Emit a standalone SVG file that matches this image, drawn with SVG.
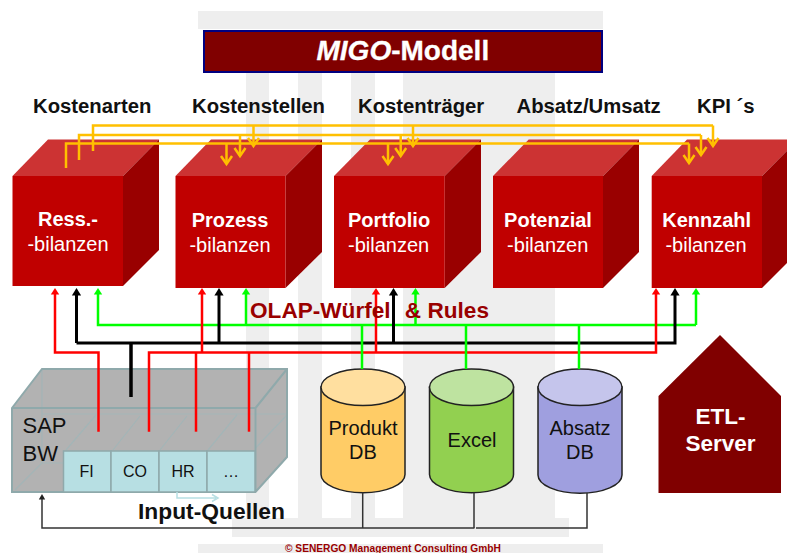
<svg xmlns="http://www.w3.org/2000/svg" width="787" height="553" viewBox="0 0 787 553">
<style>
text{font-family:"Liberation Sans",Arial,sans-serif}
.bg{fill:#eeeeee}
.front{fill:#c00000}.top{fill:#cc3333}.side{fill:#990000}
.cl{fill:#fff;font-size:20px;text-anchor:middle}
.b{font-weight:bold}
.hd{fill:#111;font-size:20.3px;font-weight:bold}
.y{fill:none;stroke:#ffc000;stroke-width:2.5;marker-end:url(#my)}
.yn{fill:none;stroke:#ffc000;stroke-width:2.5}
.r{fill:none;stroke:#ff0000;stroke-width:2.5}
.k{fill:none;stroke:#000;stroke-width:3}
.g{fill:none;stroke:#00ff00;stroke-width:2.5}
.t{fill:none;stroke:#333;stroke-width:1.5}
.cyl{stroke:#222;stroke-width:1.5}
.dt{fill:#111;font-size:20px;text-anchor:middle}
.tab{fill:#b7dfe3;stroke:#8fa9ab;stroke-width:1.5}
.tt{fill:#111;font-size:16px;text-anchor:middle}
.edge{fill:none;stroke:#8fa9ab;stroke-width:2}
.hid{fill:none;stroke:#a3b5b7;stroke-width:1.2}
</style>
<defs>
<marker id="my" markerUnits="userSpaceOnUse" markerWidth="20" markerHeight="20" orient="auto" overflow="visible"><path d="M-8,-5.5L0,0L-8,5.5" fill="none" stroke="#ffc000" stroke-width="2.5"/></marker>
<marker id="mr" markerUnits="userSpaceOnUse" markerWidth="12" markerHeight="12" orient="auto" overflow="visible"><path d="M-0.5,-4.2L6,0L-0.5,4.2z" fill="#ff0000"/></marker>
<marker id="mk" markerUnits="userSpaceOnUse" markerWidth="12" markerHeight="12" orient="auto" overflow="visible"><path d="M-0.5,-4.6L7,0L-0.5,4.6z" fill="#000"/></marker>
<marker id="mg" markerUnits="userSpaceOnUse" markerWidth="12" markerHeight="12" orient="auto" overflow="visible"><path d="M-0.5,-4.2L6,0L-0.5,4.2z" fill="#00ff00"/></marker>
<marker id="mt" markerUnits="userSpaceOnUse" markerWidth="12" markerHeight="12" orient="auto" overflow="visible"><path d="M-0.5,-3.2L5,0L-0.5,3.2z" fill="#222"/></marker>
</defs>
<rect width="787" height="553" fill="#fff"/>
<g id="background">
<rect class="bg" x="198" y="11" width="405" height="18"/>
<rect class="bg" x="246" y="72" width="23" height="446"/>
<rect class="bg" x="298" y="72" width="24" height="446"/>
<rect class="bg" x="351" y="72" width="24" height="446"/>
<rect class="bg" x="403" y="72" width="152" height="446"/>
<rect class="bg" x="232" y="518" width="337" height="19"/>
<rect class="bg" x="198" y="544" width="405" height="9"/>
</g>
<g id="title">
<rect x="204" y="31" width="398" height="41" fill="#800000" stroke="#000080" stroke-width="2"/>
<text x="316.500" y="60" fill="#fff" font-size="28" font-weight="bold" stroke="#fff" stroke-width="0.3"><tspan font-style="italic" font-weight="bold">MIGO</tspan>-Modell</text>
</g>
<g id="headers">
<text class="hd" x="33" y="113">Kostenarten</text>
<text class="hd" x="192" y="113">Kostenstellen</text>
<text class="hd" x="358" y="113">Kostenträger</text>
<text class="hd" x="516.500" y="113">Absatz/Umsatz</text>
<text class="hd" x="697" y="113">KPI ´s</text>
</g>
<g id="cube-ress">
<path class="top" d="M12.500,176L48,139.500H159L123,176z"/><path class="side" d="M123,176L159,139.500V250L123,286z"/><rect class="front" x="12.500" y="176" width="110.500" height="110"/>
<text class="cl b" x="68" y="226">Ress.-</text><text class="cl" x="68" y="251">-bilanzen</text>
</g>
<g id="cube-prozess">
<path class="top" d="M175.500,176L211,139.500H322L285.500,176z"/><path class="side" d="M285.500,176L322,139.500V252L285.500,288z"/><rect class="front" x="175.500" y="176" width="110" height="112"/>
<text class="cl b" x="230" y="226.500">Prozess</text><text class="cl" x="230" y="251.500">-bilanzen</text>
</g>
<g id="cube-portfolio">
<path class="top" d="M334,176L370,139.500H481L444.700,176z"/><path class="side" d="M444.700,176L481,139.500V252L444.700,288z"/><rect class="front" x="334" y="176" width="110.700" height="112"/>
<text class="cl b" x="389" y="226.500">Portfolio</text><text class="cl" x="388.600" y="251.500">-bilanzen</text>
</g>
<g id="cube-potenzial">
<path class="top" d="M493,176L528.700,139.500H639L603,176z"/><path class="side" d="M603,176L639,139.500V252L603,288z"/><rect class="front" x="493" y="176" width="110" height="112"/>
<text class="cl b" x="548" y="226.500">Potenzial</text><text class="cl" x="547.700" y="251.500">-bilanzen</text>
</g>
<g id="cube-kennzahl">
<path class="top" d="M651.700,176L687,139.500H798L762,176z"/><path class="side" d="M762,176L798,139.500V252L762,288z"/><rect class="front" x="651.700" y="176" width="110.300" height="112"/>
<text class="cl b" x="706.700" y="226.500">Kennzahl</text><text class="cl" x="706" y="251.500">-bilanzen</text>
</g>
<g id="sap-bw">
<path d="M12,408L42,369H287V457L255.500,492H12z" fill="#b2b2b2"/>
<path class="hid" d="M42,369V463L15,490M42,463H64M42,414H287M66,450L96,415M113,450L140,416M160,450L187,416M208,450L237,415M255.500,448L287,415"/>
<path class="edge" d="M12,408L42,369H287V457L255.500,492H12zM12,408H255.500V492M255.500,408L287,369"/>
<text x="22.500" y="433" fill="#111" font-size="22">SAP</text>
<text x="22.500" y="461" fill="#111" font-size="22">BW</text>
</g>
<g id="tab-fi"><rect class="tab" x="63.500" y="451" width="47.500" height="41"/><text class="tt" x="86.500" y="477">FI</text></g>
<g id="tab-co"><rect class="tab" x="111" y="451" width="48" height="41"/><text class="tt" x="135" y="477">CO</text></g>
<g id="tab-hr"><rect class="tab" x="159" y="451" width="48" height="41"/><text class="tt" x="183" y="477">HR</text></g>
<g id="tab-more"><rect class="tab" x="207" y="451" width="48" height="41"/><text class="tt" x="231" y="477">…</text></g>
<g id="db-produkt">
<path class="cyl" d="M321,387V474.500A42,18.200 0 0 0 405,474.500V387z" fill="#ffcc66"/><ellipse class="cyl" cx="363" cy="387.300" rx="42" ry="18.300" fill="#ffdf9f"/>
<text class="dt" x="363" y="435">Produkt</text><text class="dt" x="363" y="459">DB</text>
</g>
<g id="db-excel">
<path class="cyl" d="M429.500,387V474.500A42,18.200 0 0 0 513.500,474.500V387z" fill="#92d050"/><ellipse class="cyl" cx="471.500" cy="387.300" rx="42" ry="18.300" fill="#bee3a0"/>
<text class="dt" x="472" y="447">Excel</text>
</g>
<g id="db-absatz">
<path class="cyl" d="M538,387V475A42,18.200 0 0 0 622,475V387z" fill="#9f9fdf"/><ellipse class="cyl" cx="580" cy="387.300" rx="42" ry="18.300" fill="#c5c5ec"/>
<text class="dt" x="580" y="435">Absatz</text><text class="dt" x="580" y="459">DB</text>
</g>
<g id="etl-server">
<path d="M720,335L781,396V493H658.500V396z" fill="#800000"/>
<text x="720.500" y="423.500" fill="#fff" font-size="22.500" font-weight="bold" text-anchor="middle">ETL-</text>
<text x="720.500" y="450.700" fill="#fff" font-size="22.500" font-weight="bold" text-anchor="middle">Server</text>
</g>
<g id="connectors">
<path class="yn" d="M93,151V125.500H713"/>
<path class="yn" d="M79,160V135H701"/>
<path class="yn" d="M66,168V143.500H689"/>
<path class="y" d="M253.500,125.500V146"/><path class="y" d="M413,125.500V146"/><path class="y" d="M713,125.500V146"/>
<path class="y" d="M240,135V156"/><path class="y" d="M400.700,135V156"/><path class="y" d="M701,135V155"/>
<path class="y" d="M226.500,143.500V164"/><path class="y" d="M388,143.500V164"/><path class="y" d="M689,143.500V163"/>
<path class="g" marker-end="url(#mg)" d="M696,325V294"/>
<path class="g" marker-end="url(#mg)" d="M415.500,325V294"/>
<path class="g" marker-end="url(#mg)" d="M246,325V294"/>
<path class="g" marker-end="url(#mg)" d="M696,325H98V294"/>
<path class="k" marker-end="url(#mk)" d="M219,343V295"/>
<path class="k" marker-end="url(#mk)" d="M393.500,343V295"/>
<path class="k" marker-end="url(#mk)" d="M76.500,343V295"/>
<path class="k" marker-end="url(#mk)" d="M76.500,343H675V295"/>
<path class="k" style="stroke-width:3.500" d="M131,343V397"/>
<path class="r" marker-end="url(#mr)" d="M98.500,431.700V352.500H55V294"/>
<path class="r" d="M196,431.700V353"/>
<path class="r" d="M249,431.700V353"/>
<path class="r" marker-end="url(#mr)" d="M202,352.500V294"/>
<path class="r" marker-end="url(#mr)" d="M376,352.500V294"/>
<path class="r" marker-end="url(#mr)" d="M149,431.700V352.500H656V294"/>
<path class="g" d="M362,325V369"/>
<path class="g" d="M466,325V369"/>
<path class="g" d="M579,325V369"/>
<path class="t" marker-end="url(#mt)" d="M474.500,528H42V499"/>
<path class="t" d="M362.700,492.500V528"/>
<path class="t" d="M474,492.500V528"/>
<path class="t" d="M587,493V528H476"/>
<path d="M177,492V498H216M212,494.500L218,498L212,501.500" fill="none" stroke="#b7dfe3" stroke-width="1.500"/>
</g>
<g id="labels">
<text x="250" y="317.700" fill="#990000" font-size="22.600" font-weight="bold">OLAP-Würfel <tspan dx="8">&amp; Rules</tspan></text>
<text x="138" y="519" fill="#111" font-size="22.800" font-weight="bold">Input-Quellen</text>
<text x="285" y="551.600" fill="#990000" font-size="10.200" font-weight="bold">© SENERGO Management Consulting GmbH</text>
</g>
</svg>
